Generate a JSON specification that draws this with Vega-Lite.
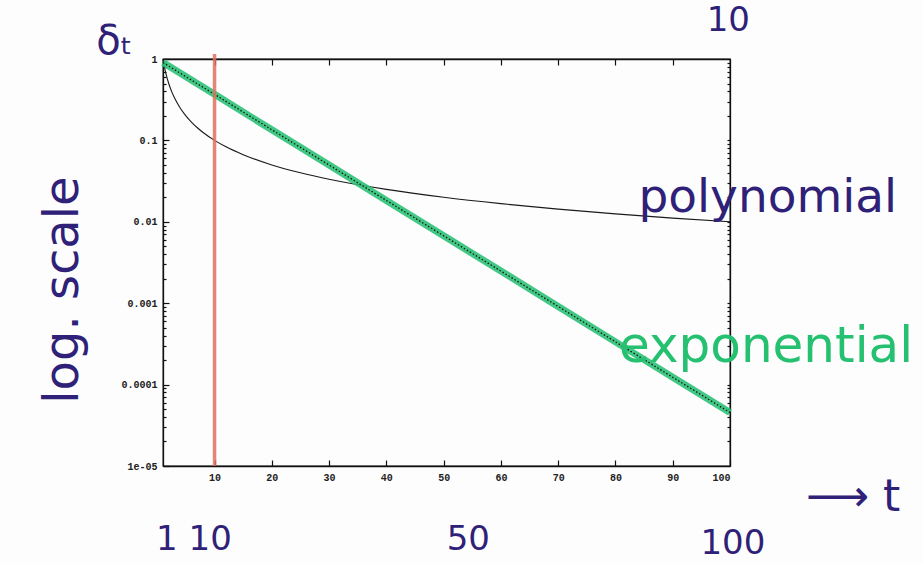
{
  "$schema": "https://vega.github.io/schema/vega-lite/v6.json",
  "autosize": {"type": "none"},
  "padding": {"left": 163, "top": 59, "right": 193, "bottom": 97},
  "width": 567,
  "height": 407,
  "background": "#fdfdfd",
  "view": {"stroke": "#111", "strokeWidth": 1.3},
  "config": {
    "axis": {
      "domainColor": "#111",
      "domainWidth": 1.3,
      "tickColor": "#111",
      "tickWidth": 1.2,
      "grid": false,
      "labelFont": "Liberation Mono",
      "labelFontWeight": "bold",
      "labelFontSize": 10,
      "labelColor": "#222",
      "title": null
    }
  },
  "datasets": {
    "decay": [
      {"t": 1, "delta": 1},
      {"t": 1.25, "delta": 0.8},
      {"t": 1.5, "delta": 0.6667},
      {"t": 2, "delta": 0.5},
      {"t": 2.5, "delta": 0.4},
      {"t": 3, "delta": 0.3333},
      {"t": 4, "delta": 0.25},
      {"t": 5, "delta": 0.2},
      {"t": 6, "delta": 0.1667},
      {"t": 7, "delta": 0.1429},
      {"t": 8, "delta": 0.125},
      {"t": 10, "delta": 0.1},
      {"t": 12, "delta": 0.0833},
      {"t": 15, "delta": 0.0667},
      {"t": 20, "delta": 0.05},
      {"t": 25, "delta": 0.04},
      {"t": 30, "delta": 0.0333},
      {"t": 40, "delta": 0.025},
      {"t": 50, "delta": 0.02},
      {"t": 60, "delta": 0.0167},
      {"t": 70, "delta": 0.0143},
      {"t": 80, "delta": 0.0125},
      {"t": 90, "delta": 0.0111},
      {"t": 100, "delta": 0.01}
    ],
    "expo": [
      {"t": 1, "delta": 0.905},
      {"t": 10, "delta": 0.368},
      {"t": 20, "delta": 0.135},
      {"t": 30, "delta": 0.0498},
      {"t": 40, "delta": 0.0183},
      {"t": 50, "delta": 0.00674},
      {"t": 60, "delta": 0.00248},
      {"t": 70, "delta": 0.000912},
      {"t": 80, "delta": 0.000335},
      {"t": 90, "delta": 0.000123},
      {"t": 100, "delta": 0.0000454}
    ],
    "marker": [{"t": 10, "top": 1.15, "bottom": 0.00001}],
    "inkNotes": [
      {"t": 106.6, "delta": 0.0195, "note": "polynomial"},
      {"t": 6.4, "delta": 0.00000123, "note": "1 10"},
      {"t": 54.3, "delta": 0.00000123, "note": "50"},
      {"t": 100.5, "delta": 0.0000011, "note": "100"},
      {"t": 99.7, "delta": 2.9, "note": "10"}
    ],
    "arrowNote": [{"t": 121.5, "delta": 0.0000040, "note": "⟶ t"}],
    "deltaNote": [{"t": -7.5, "delta": 1.62, "note": "δₜ"}],
    "sideNote": [{"t": -16.3, "delta": 0.00145, "note": "log. scale"}],
    "greenNote": [{"t": 106.3, "delta": 0.00029, "note": "exponential"}]
  },
  "resolve": {"axis": {"x": "independent", "y": "independent"}},
  "layer": [
    {
      "data": {"name": "decay"},
      "mark": {"type": "line", "color": "#1a1a1a", "strokeWidth": 1.1, "interpolate": "monotone"},
      "encoding": {
        "x": {
          "field": "t", "type": "quantitative",
          "scale": {"domain": [1, 100], "nice": false, "zero": false},
          "axis": {
            "orient": "bottom",
            "values": [10, 20, 30, 40, 50, 60, 70, 80, 90, 100],
            "tickSize": -6,
            "labelPadding": 12
          }
        },
        "y": {
          "field": "delta", "type": "quantitative",
          "scale": {"type": "log", "domain": [0.00001, 1], "nice": false},
          "axis": {
            "orient": "left",
            "values": [1, 0.1, 0.01, 0.001, 0.0001, 0.00001,
              0.9, 0.8, 0.7, 0.6, 0.5, 0.4, 0.3, 0.2,
              0.09, 0.08, 0.07, 0.06, 0.05, 0.04, 0.03, 0.02,
              0.009, 0.008, 0.007, 0.006, 0.005, 0.004, 0.003, 0.002,
              0.0009, 0.0008, 0.0007, 0.0006, 0.0005, 0.0004, 0.0003, 0.0002,
              0.00009, 0.00008, 0.00007, 0.00006, 0.00005, 0.00004, 0.00003, 0.00002],
            "labelExpr": "datum.value == 1 ? '1' : datum.value == 0.1 ? '0.1' : datum.value == 0.01 ? '0.01' : datum.value == 0.001 ? '0.001' : datum.value == 0.0001 ? '0.0001' : datum.value == 0.00001 ? '1e-05' : ''",
            "tickSize": {"condition": {"test": "datum.value == 1 || datum.value == 0.1 || datum.value == 0.01 || datum.value == 0.001 || datum.value == 0.0001 || datum.value == 0.00001", "value": -6}, "value": -3},
            "labelPadding": 12
          }
        }
      }
    },
    {
      "data": {"name": "expo"},
      "mark": {"type": "line", "color": "#2cc277", "strokeWidth": 7, "opacity": 0.9},
      "encoding": {
        "x": {
          "field": "t", "type": "quantitative",
          "scale": {"domain": [1, 100], "nice": false, "zero": false},
          "axis": {"orient": "top", "values": [10, 20, 30, 40, 50, 60, 70, 80, 90], "tickSize": -6, "labels": false}
        },
        "y": {
          "field": "delta", "type": "quantitative",
          "scale": {"type": "log", "domain": [0.00001, 1], "nice": false},
          "axis": {
            "orient": "right",
            "values": [0.9, 0.8, 0.7, 0.6, 0.5, 0.4, 0.3, 0.2, 0.1,
              0.09, 0.08, 0.07, 0.06, 0.05, 0.04, 0.03, 0.02, 0.01,
              0.009, 0.008, 0.007, 0.006, 0.005, 0.004, 0.003, 0.002, 0.001,
              0.0009, 0.0008, 0.0007, 0.0006, 0.0005, 0.0004, 0.0003, 0.0002, 0.0001,
              0.00009, 0.00008, 0.00007, 0.00006, 0.00005, 0.00004, 0.00003, 0.00002],
            "tickSize": -3,
            "labels": false
          }
        }
      }
    },
    {
      "data": {"name": "expo"},
      "mark": {"type": "line", "color": "#111", "strokeWidth": 1.3, "strokeDash": [1.5, 2]},
      "encoding": {
        "x": {"field": "t", "type": "quantitative", "axis": null},
        "y": {"field": "delta", "type": "quantitative", "axis": null}
      }
    },
    {
      "data": {"name": "marker"},
      "mark": {"type": "rule", "color": "#e0705f", "strokeWidth": 3.5, "opacity": 0.85},
      "encoding": {
        "x": {"field": "t", "type": "quantitative", "axis": null},
        "y": {"field": "top", "type": "quantitative", "axis": null},
        "y2": {"field": "bottom"}
      }
    },
    {
      "data": {"name": "inkNotes"},
      "mark": {"type": "text", "color": "#2f2178", "font": "DejaVu Sans", "fontSize": 36, "baseline": "middle", "align": "center"},
      "encoding": {
        "x": {"field": "t", "type": "quantitative", "axis": null},
        "y": {"field": "delta", "type": "quantitative", "axis": null},
        "text": {"field": "note"},
        "size": {"condition": {"test": "datum.note == 'polynomial'", "value": 47}, "value": 34}
      }
    },
    {
      "data": {"name": "arrowNote"},
      "mark": {"type": "text", "color": "#2f2178", "font": "DejaVu Sans", "fontSize": 44, "baseline": "middle", "align": "center"},
      "encoding": {
        "x": {"field": "t", "type": "quantitative", "axis": null},
        "y": {"field": "delta", "type": "quantitative", "axis": null},
        "text": {"field": "note"}
      }
    },
    {
      "data": {"name": "deltaNote"},
      "mark": {"type": "text", "color": "#2f2178", "font": "DejaVu Sans", "fontSize": 40, "baseline": "middle", "align": "center"},
      "encoding": {
        "x": {"field": "t", "type": "quantitative", "axis": null},
        "y": {"field": "delta", "type": "quantitative", "axis": null},
        "text": {"field": "note"}
      }
    },
    {
      "data": {"name": "sideNote"},
      "mark": {"type": "text", "color": "#2f2178", "font": "DejaVu Sans", "fontSize": 48, "angle": 270, "baseline": "middle", "align": "center"},
      "encoding": {
        "x": {"field": "t", "type": "quantitative", "axis": null},
        "y": {"field": "delta", "type": "quantitative", "axis": null},
        "text": {"field": "note"}
      }
    },
    {
      "data": {"name": "greenNote"},
      "mark": {"type": "text", "color": "#25c070", "font": "DejaVu Sans", "fontSize": 50, "baseline": "middle", "align": "center"},
      "encoding": {
        "x": {"field": "t", "type": "quantitative", "axis": null},
        "y": {"field": "delta", "type": "quantitative", "axis": null},
        "text": {"field": "note"}
      }
    }
  ]
}
